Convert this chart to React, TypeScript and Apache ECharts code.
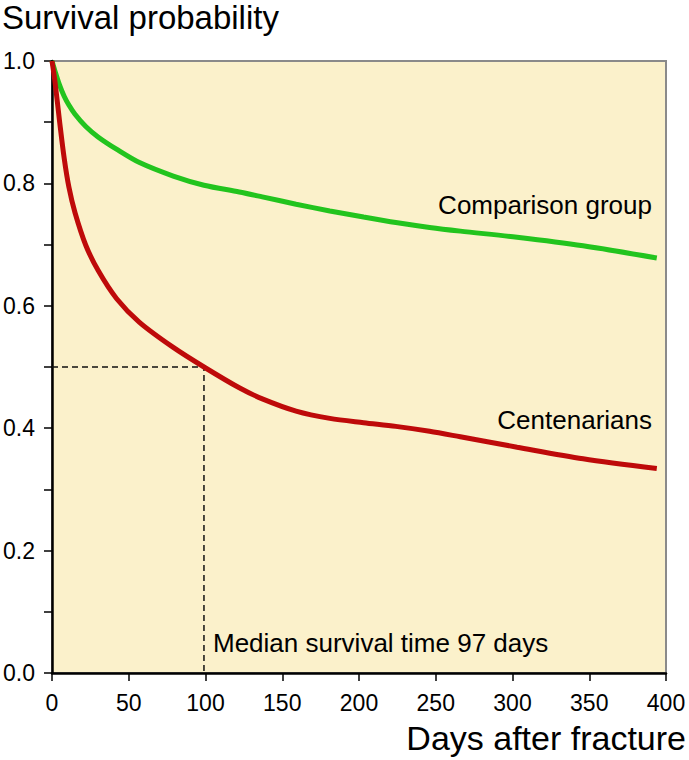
import React, { useEffect, useRef } from "react";
import * as echarts from "echarts";

const days = [0, 2, 5, 8, 11, 15, 22, 30, 42, 57, 79, 99, 122, 137, 159, 181, 203, 224, 246, 266, 303, 346, 394];
const comparison = [1.0, 0.983, 0.96, 0.942, 0.928, 0.913, 0.893, 0.876, 0.856, 0.834, 0.812, 0.797, 0.786, 0.778, 0.766, 0.755, 0.745, 0.736, 0.728, 0.722, 0.712, 0.698, 0.678];
const centenarians = [1.0, 0.965, 0.9, 0.84, 0.794, 0.752, 0.699, 0.658, 0.612, 0.573, 0.532, 0.5, 0.466, 0.448, 0.428, 0.416, 0.409, 0.403, 0.395, 0.386, 0.369, 0.35, 0.334];
const dashedX = 99;
const medianValue = 0.5;
const medianText = "Median survival time 97 days";
const xTicks = [0, 50, 100, 150, 200, 250, 300, 350, 400];
const yLabels = ["0.0", "0.2", "0.4", "0.6", "0.8", "1.0"];

const FONT = "'Liberation Sans', Arial, sans-serif";

export default function App() {
  const ref = useRef<HTMLDivElement>(null);
  useEffect(() => {
    if (!ref.current) return;
    const chart = echarts.init(ref.current, null, { renderer: "svg" });
    const dashed = [
      [0, medianValue],
      [dashedX, medianValue],
      [dashedX, 0],
    ];
    chart.setOption({
      animation: false,
      backgroundColor: "#ffffff",
      textStyle: { fontFamily: FONT },
      grid: {
        left: 52,
        top: 61,
        right: 23,
        bottom: 87,
        show: true,
        backgroundColor: "#FBF1CB",
        borderColor: "#8a8a8a",
        borderWidth: 2,
      },
      xAxis: {
        type: "value",
        min: xTicks[0],
        max: xTicks[xTicks.length - 1],
        interval: 50,
        axisLine: { show: true, lineStyle: { color: "#000", width: 2.5 } },
        axisTick: { show: true, length: 8, lineStyle: { color: "#000", width: 1.5 } },
        axisLabel: { color: "#000", fontSize: 23, fontFamily: FONT, margin: 18 },
        splitLine: { show: false },
      },
      yAxis: {
        type: "value",
        min: 0,
        max: 1,
        interval: 0.1,
        axisLine: { show: true, lineStyle: { color: "#000", width: 2.5 } },
        axisTick: { show: true, length: 8, lineStyle: { color: "#000", width: 1.5 } },
        axisLabel: {
          color: "#000",
          fontSize: 23,
          fontFamily: FONT,
          margin: 17,
          formatter: (v: number) => {
            const k = Math.round(v * 10);
            return k % 2 === 0 ? yLabels[k / 2] : "";
          },
        },
        splitLine: { show: false },
      },
      series: [
        {
          type: "line",
          name: "Median",
          data: dashed,
          symbol: "none",
          lineStyle: { color: "#111", width: 1.5, type: [6, 4] },
          z: 1,
        },
        {
          type: "line",
          name: "Comparison group",
          data: days.map((d, i) => [d, comparison[i]]),
          symbol: "none",
          smooth: 0.3,
          lineStyle: { color: "#22C41E", width: 5 },
          z: 3,
        },
        {
          type: "line",
          name: "Centenarians",
          data: days.map((d, i) => [d, centenarians[i]]),
          symbol: "none",
          smooth: 0.3,
          lineStyle: { color: "#BE0A0A", width: 5 },
          z: 4,
        },
      ],
      graphic: [
        {
          type: "text",
          left: 2,
          top: 1,
          style: { text: "Survival probability", fontSize: 33, fontFamily: FONT, fill: "#000" },
        },
        {
          type: "text",
          right: 3,
          top: 721,
          style: { text: "Days after fracture", fontSize: 34, fontFamily: FONT, fill: "#000" },
        },
        {
          type: "text",
          x: 652,
          y: 205,
          style: { text: "Comparison group", fontSize: 26, fontFamily: FONT, fill: "#000", align: "right", verticalAlign: "middle" },
        },
        {
          type: "text",
          x: 652,
          y: 420,
          style: { text: "Centenarians", fontSize: 26, fontFamily: FONT, fill: "#000", align: "right", verticalAlign: "middle" },
        },
        {
          type: "text",
          x: 213,
          y: 643,
          style: { text: medianText, fontSize: 26, fontFamily: FONT, fill: "#000", align: "left", verticalAlign: "middle" },
        },
      ],
    });
    return () => chart.dispose();
  }, []);
  return <div ref={ref} style={{ position: "absolute", left: 0, top: 0, width: 689, height: 760 }} />;
}
